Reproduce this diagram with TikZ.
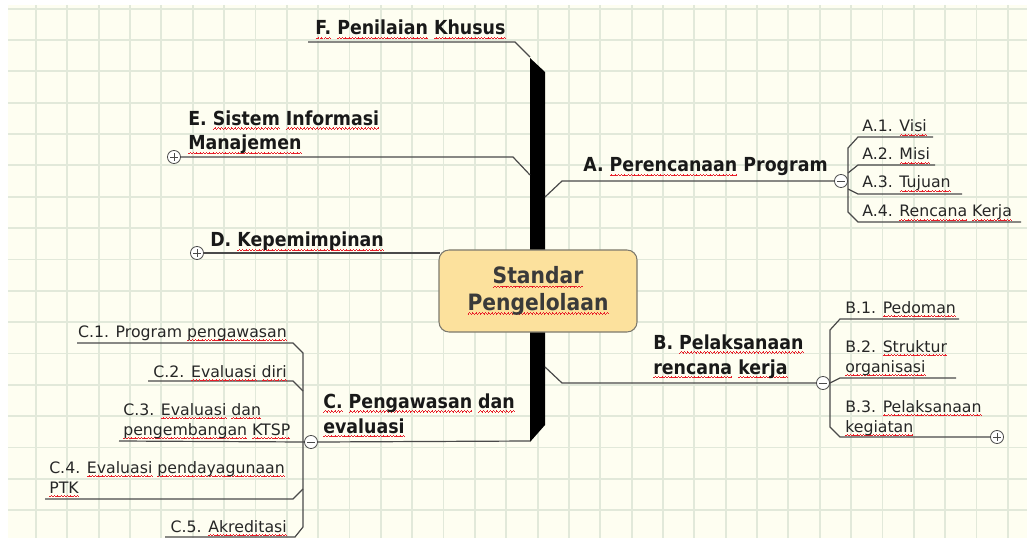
\documentclass[tikz,border=0pt]{standalone}
\usepackage{fontspec}
\usepackage{xcolor}
\usetikzlibrary{positioning}
\setmainfont{DejaVu Sans}
\newfontfamily\branchfont[FakeStretch=0.9]{DejaVu Sans}
\definecolor{mapcream}{HTML}{FEFEF1}
\definecolor{mapgrid}{HTML}{E2E9DA}
\definecolor{mapline}{HTML}{4A4A4A}
\definecolor{mapcore}{HTML}{FCE19D}
\definecolor{mapedge}{HTML}{7D7A6E}
\definecolor{maptext}{HTML}{3A3A3A}
\definecolor{mapspell}{HTML}{E8202A}
% red spelling wave under a word
\newcommand\spl[1]{\leavevmode\setbox0=\hbox{#1}\rlap{\color{mapspell}\xleaders\hbox{%
  \rule[-2.9pt]{0.6pt}{0.5pt}\rule[-2.4pt]{0.6pt}{0.5pt}%
  \rule[-1.9pt]{0.6pt}{0.5pt}\rule[-2.4pt]{0.6pt}{0.5pt}}\hskip\wd0}\box0\relax}
\tikzset{
  gridln/.style ={draw=mapgrid, line width=1.4pt},
  conn/.style   ={draw=mapline, line width=0.9pt},
  branch/.style ={inner sep=0pt, anchor=base west, align=left, text=black!90,
                  font=\branchfont\bfseries\fontsize{14.5}{18.4}\selectfont},
  leaf/.style   ={inner sep=0pt, anchor=base west, align=left, text=black!85,
                  font=\fontsize{11.8}{15}\selectfont},
  leafr/.style  ={leaf, anchor=base east, align=right},
  core/.style   ={draw=mapedge, fill=mapcore, rounded corners=7.5pt, line width=0.8pt,
                  minimum width=148.5pt, minimum height=61.5pt, align=center, text=maptext,
                  font=\branchfont\bfseries\fontsize{16.9}{20.2}\selectfont},
  trunk/.style  ={fill=black},
  marker/.style ={circle, draw=mapline, fill=white, line width=0.6pt,
                  minimum size=9.8pt, inner sep=0pt},
  minusmk/.style={marker, path picture={\draw[mapline, line width=0.6pt]
                  ([xshift=-2.8pt]path picture bounding box.center) --
                  ([xshift=2.8pt]path picture bounding box.center);}},
  plusmk/.style ={marker, path picture={\draw[mapline, line width=0.6pt]
                  ([xshift=-2.8pt]path picture bounding box.center) --
                  ([xshift=2.8pt]path picture bounding box.center)
                  ([yshift=-2.8pt]path picture bounding box.center) --
                  ([yshift=2.8pt]path picture bounding box.center);}},
}
\begin{document}
\begin{tikzpicture}[x=0.75pt, y=-0.75pt]
  \useasboundingbox (0,0) rectangle (1027,538);
  % paper and grid
  \fill[mapcream] (8,5) rectangle (1027,538);
  \foreach \k in {0,...,31} { \draw[gridln] ({36+31.35*\k},5) -- ({36+31.35*\k},538); }
  \foreach \k in {0,...,16} { \draw[gridln] (8,{8.65+31.35*\k}) -- (1027,{8.65+31.35*\k}); }

  % trunk
  \fill[trunk] (530,58) -- (545,72) -- (545,425) -- (530,442) -- cycle;

  % markers
  \node[minusmk] (mA) at (841,181) {};
  \node[minusmk] (mB) at (823,383) {};
  \node[minusmk] (mC) at (311,442) {};
  \node[plusmk] (mD) at (197,253) {};
  \node[plusmk] (mE) at (174,157) {};
  \node[plusmk] (mB3) at (997,437) {};

  % main branches
  \draw[conn] (308,42) -- (515,42) -- (530,57);
  \draw[conn] (mE.east) -- (513,157) -- (530,175);
  \draw[conn] (mD.east) -- (440,253);
  \draw[conn] (545,197) -- (562,181) -- (mA.west);
  \draw[conn] (545,367) -- (562,383) -- (mB.west);
  \draw[conn] (530,441) -- (mC.east);

  % A subtree
  \draw[conn] (933,137) -- (858,137) -- (848,148) -- (848,212) -- (858,222) -- (1021,222);
  \draw[conn] (848,173) -- (858,165) -- (935,165);
  \draw[conn] (848,189) -- (858,194) -- (962,194);
  % B subtree
  \draw[conn] (959,319) -- (840,319) -- (830,330) -- (830,427) -- (840,437) -- (mB3.west);
  \draw[conn] (mB.east) -- (840,378) -- (956,378);
  % C subtree
  \draw[conn] (77,343) -- (293,343) -- (303,353) -- (303,527) -- (295,537) -- (165,537);
  \draw[conn] (148,381) -- (293,381) -- (303,391);
  \draw[conn] (119,441) -- (mC.west);
  \draw[conn] (45,499) -- (293,499) -- (303,489);

  % core
  \node[core] (core) at (538,291) {\spl{Standar}\\\spl{Pengelolaan}};

  % branch labels (multi-line ones sit on their last line)
  \node[branch] (F) at (315,35) {\spl{F.} \spl{Penilaian} \spl{Khusus}};
  \node[branch] (E) at (188,150) {E. \spl{Sistem} \spl{Informasi}\\\spl{Manajemen}};
  \node[branch] (D) at (210,247) {D. \spl{Kepemimpinan}};
  \node[branch] (A) at (583,172) {A. \spl{Perencanaan} Program};
  \node[branch] (B) at (653,374) {B. \spl{Pelaksanaan}\\\spl{rencana} \spl{kerja}};
  \node[branch] (C) at (323,433) {\spl{C.} \spl{Pengawasan} \spl{dan}\\\spl{evaluasi}};

  % leaves
  \node[leaf] (A1) at (862,132) {A.1. \spl{Visi}};
  \node[leaf] (A2) at (862,160) {A.2. \spl{Misi}};
  \node[leaf] (A3) at (862,188) {A.3. \spl{Tujuan}};
  \node[leaf] (A4) at (862,217) {A.4. \spl{Rencana} \spl{Kerja}};
  \node[leaf] (B1) at (845,313) {B.1. \spl{Pedoman}};
  \node[leaf] (B2) at (845,372) {B.2. \spl{Struktur}\\\spl{organisasi}};
  \node[leaf] (B3) at (845,432) {B.3. \spl{Pelaksanaan}\\\spl{kegiatan}};
  \node[leafr] (C1) at (287,337) {C.1. Program \spl{pengawasan}};
  \node[leafr] (C2) at (287,377) {C.2. \spl{Evaluasi} \spl{diri}};
  \node[leaf] (C3) at (123,435) {C.3. \spl{Evaluasi} \spl{dan}\\\spl{pengembangan} \spl{KTSP}};
  \node[leaf] (C4) at (49,493) {C.4. \spl{Evaluasi} \spl{pendayagunaan}\\\spl{PTK}};
  \node[leafr] (C5) at (287,532) {C.5. \spl{Akreditasi}};
\end{tikzpicture}
\end{document}
